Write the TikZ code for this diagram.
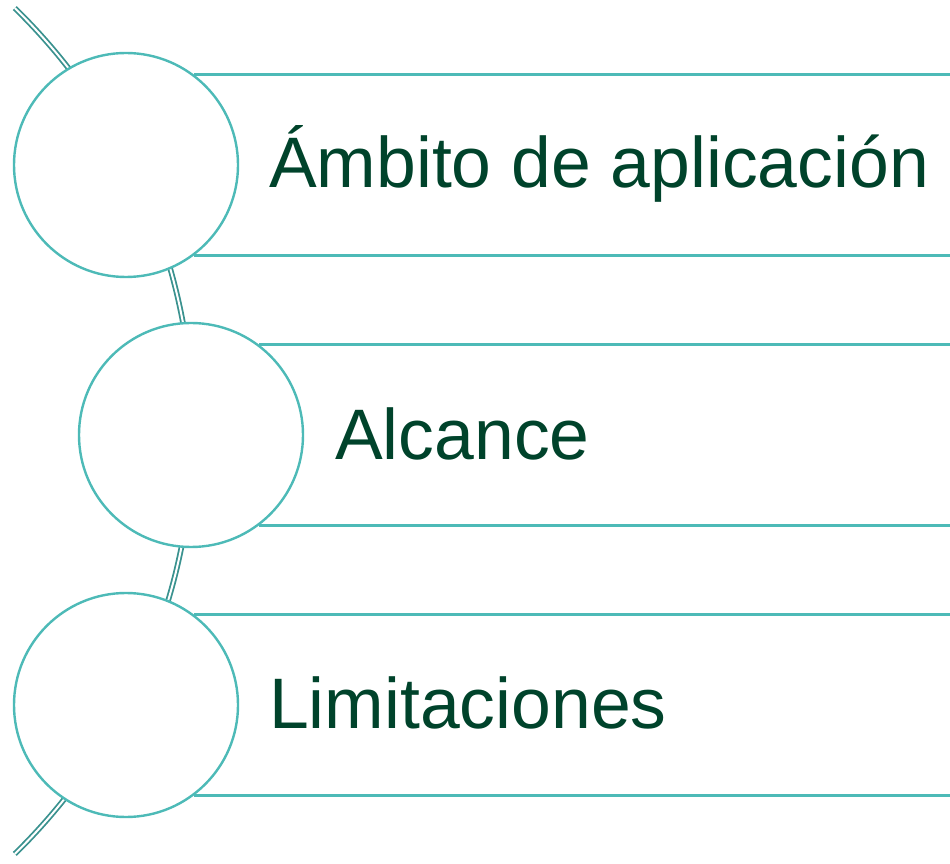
\documentclass[tikz,border=0pt]{standalone}
\usepackage{fontspec}
\setmainfont{Liberation Sans}
\definecolor{ringcol}{HTML}{4DBAB7}
\definecolor{spinecol}{HTML}{3A928F}
\definecolor{textcol}{HTML}{00432B}
\begin{document}
\begin{tikzpicture}[
        x=1pt, y=1pt,
        ring/.style={circle, draw=ringcol, line width=2.4pt, fill=white, minimum size=224pt, inner sep=0pt},
        rule/.style={draw=ringcol, line width=2.2pt},
        spine/.style={draw=spinecol, line width=1.8pt, double=white, double distance=2pt},
        label/.style={anchor=base west, text=textcol, font=\fontsize{71.5}{86}\selectfont, inner sep=0pt}
    ]
        \useasboundingbox (0,0) rectangle (950,863);
        \coordinate (hub) at (-398,432);
        % the arc behind the rings
        \draw[spine] ([shift={(45.7:591pt)}]hub) arc[start angle=45.7, end angle=-45.7, radius=591pt];
        \node[ring] (c1) at (126,698) {};
        \node[ring] (c2) at (191,428) {};
        \node[ring] (c3) at (126,158) {};
        \coordinate (edge) at (950,0);
        \foreach \c in {c1,c2,c3} {
            \draw[rule] (\c.53.5) -- (\c.53.5 -| edge);
            \draw[rule] (\c.-53.5) -- (\c.-53.5 -| edge);
        }
        \node[label] (t1) at (269,675) {Ámbito de aplicación};
        \node[label] (t2) at (335,403) {Alcance};
        \node[label] (t3) at (269,135) {Limitaciones};
    \end{tikzpicture}
\end{document}
